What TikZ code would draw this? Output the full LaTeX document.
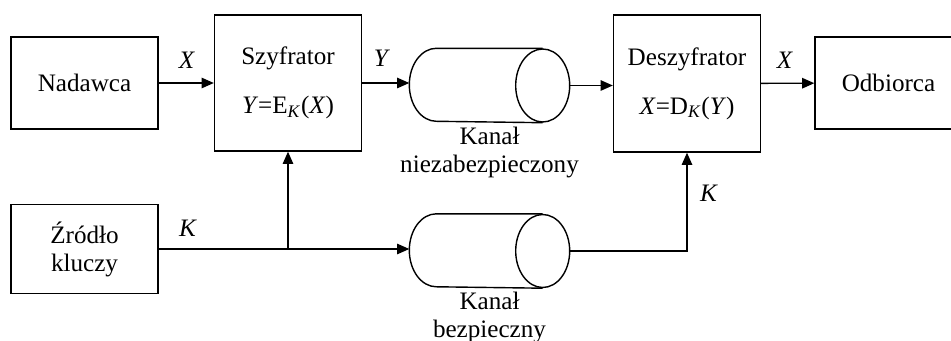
\documentclass[tikz,border=0pt]{standalone}
\usepackage{fontspec}
\setmainfont{Liberation Serif}
\usetikzlibrary{arrows.meta}

\begin{document}
\begin{tikzpicture}[x=0.02cm,y=-0.02cm,line width=0.8pt,
	>={Triangle[length=7pt,width=6pt]},
	font=\fontsize{14.3}{16}\selectfont,
	blok/.style={draw,rectangle,inner sep=0pt,align=center,minimum width=2.94cm},
	kanal/.style={rectangle,inner sep=0pt,minimum width=3.18cm,minimum height=1.46cm}]
	\useasboundingbox (0,0) rectangle (951,341);
	% bloki
	\node[blok,minimum height=1.84cm] (nad) at (84.5,83) {Nadawca};
	\node[blok,minimum height=2.72cm] (szyf) at (288,83) {Szyfrator\\[11.8pt]\textit{Y}=E\textsubscript{\textit{K}}(\textit{X})};
	\node[blok,minimum height=2.74cm] (deszyf) at (687,83.5) {Deszyfrator\\[11.8pt]\textit{X}=D\textsubscript{\textit{K}}(\textit{Y})};
	\node[blok,minimum height=1.84cm] (odb) at (888.5,83) {Odbiorca};
	\node[blok,minimum height=1.78cm] (zrodlo) at (84.5,249) {Źródło\\kluczy};
	% kanaly (walce)
	\node[kanal] (kan1) at (489.5,85.5) {};
	\node[kanal] (kan2) at (489.5,251) {};
	\foreach \k in {kan1,kan2} {
		\draw ([xshift=-0.54cm]\k.north east) -- ([xshift=0.54cm]\k.north west)
			arc[start angle=90,end angle=270,x radius=0.54cm,y radius=0.73cm]
			-- ([xshift=-0.54cm]\k.south east);
		\draw ([xshift=-0.54cm]\k.east) ellipse [x radius=0.54cm,y radius=0.73cm];
	}
	\node[below,inner sep=2pt,align=center] (opis1) at (kan1.south) {Kanał\\niezabezpieczony};
	\node[below,inner sep=2pt,align=center] (opis2) at (kan2.south) {Kanał\\bezpieczny};
	% etykiety
	\node (x1) at (187,60) {\textit{X}};
	\node (y1) at (382,58) {\textit{Y}};
	\node (x2) at (785,60) {\textit{X}};
	\node (k1) at (188,228) {\textit{K}};
	\node (k2) at (709,193) {\textit{K}};
	% polaczenia
	\coordinate (j) at (szyf.south |- zrodlo.east);
	\draw[->] (nad) -- (szyf);
	\draw[->] (szyf.east) -- (szyf.east -| kan1.west);
	\draw[->] (kan1.east) -- (kan1.east -| deszyf.west);
	\draw[->] (deszyf) -- (odb);
	\draw[->] (zrodlo.east) -- (zrodlo.east -| kan2.west);
	\draw[->] (j) -- (szyf.south);
	\draw[->] (kan2.east) -| (deszyf.south);
\end{tikzpicture}
\end{document}
